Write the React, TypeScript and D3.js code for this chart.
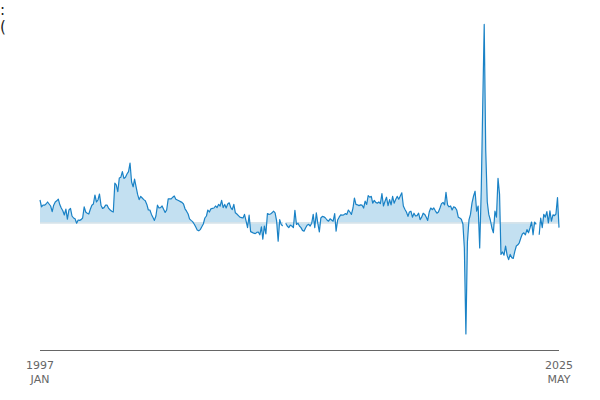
import React from "react";
import * as d3 from "d3";

const startYear = 1997;
const startLabel = ["1997", "JAN"];
const endLabel = ["2025", "MAY"];
const titleLines = [":", "("];

const y1997 = [5.5, 3.8, 4.2, 4.2, 4.5, 5, 4.5, 4, 2.6, 4.2, 5, 5.3];
const y1998 = [5.7, 4.3, 3.5, 2.8, 1.75, 3.2, 0.7, 3, 3.4, 1.5, 1, 0.8];
const y1999 = [-0.3, 0.5, 0.4, 0.6, 1, 3.8, 2.5, 2.2, 2, 3.2, 4.2, 4.5];
const y2000 = [6.75, 5, 5.5, 7, 4.2, 3.4, 3.6, 4.2, 4.2, 3.4, 3, 2.7];
const y2001 = [2.5, 9.7, 9.3, 7.6, 11, 11.2, 12.6, 10.9, 11.2, 12, 12.6, 14.7];
const y2002 = [10, 8.8, 10.7, 8.8, 6.9, 5.6, 6.4, 6, 5.6, 5.3, 4.4, 3];
const y2003 = [3, 1.9, 1.2, 0.4, 1.5, 4.2, 3.5, 3.6, 4, 3.2, 2.4, 3];
const y2004 = [5.8, 5.8, 5.8, 6.2, 6.5, 5.7, 5.5, 5.3, 5.1, 4.9, 4.5, 3.3];
const y2005 = [2.7, 2, 0.8, 0.4, 0.1, -0.5, -1.2, -2, -2.2, -1.9, -1.2, -0.5];
const y2006 = [1, 1.5, 3, 2.5, 3.3, 3.4, 3.5, 4, 3.6, 4.4, 4, 5.4];
const y2007 = [3.6, 4.4, 3.5, 4.5, 4.8, 3.6, 3.1, 4.4, 2.3, 2, 1.6, 1.2];
const y2008 = [1.1, 1, 1.9, 0.3, -1.4, 1.7, -2.4, -2.6, -2.8, -2.9, -2.6, -2.5];
const y2009 = [-3.2, -1.2, -4.3, -1, -3, 2.1, 1.9, 2, 2.3, 2.7, 2.3, 0.3];
const y2010 = [-4.8, 0.6, -0.6, -1, null, -0.3, -1, -1.4, -0.8, -1, -1.4, 2.9];
const y2011 = [-0.6, -0.3, -1, -1.4, -2.1, -2.3, -1.5, -0.8, -0.6, -1, -0.3, 1.9];
const y2012 = [-1.4, 2.3, -0.3, -2.5, 1, 1.4, 1.3, 1, 0.5, 0.2, 0.8, 0.5];
const y2013 = [0.2, 2.1, -2.3, 0.5, 1.2, 1.8, 1.7, 1.8, 2.1, 1.9, 3, 2.5];
const y2014 = [1.9, 3.5, 6, 4.4, 4.3, 4.1, 4.3, 4.2, 3.5, 5.2, 4.4, 6.6];
const y2015 = [6.2, 6.4, 4.7, 5.4, 4.9, 4.7, 5, 4.6, 7.1, 4, 5.2, 6.2];
const y2016 = [4.1, 5.6, 4.3, 6.4, 4.7, 5.6, 6.4, 5.7, 6.5, 7.3, 4, 3.2];
const y2017 = [2.5, 1.4, 2.5, 2.7, 1.2, 2.2, 1.5, 1.6, 2.2, 0.6, 1.2, 2.2];
const y2018 = [1.9, 1.2, 0.4, 2.5, 3.5, 3.1, 3.5, 2.8, 2.2, 2.5, 3.5, 4.6];
const y2019 = [4.9, 4.3, 7.4, 4.3, 3.8, 4, 3, 3.8, 3.6, 3, 1.2, 1];
const y2020 = [0.7, -0.5, -6.5, -28, -5, 0.5, 1.9, 4.8, 6.5, 7.7, 2.7, 4];
const y2021 = [-6.5, 8, 28, 49.4, 18, 5, 1.9, 0.5, -1.5, -2.7, 2.7, 1.2];
const y2022 = [10.9, 6.9, -8.1, -7.5, -8.3, -6, -8.3, -9.4, -8.1, -8.9, -9.1, -7.4];
const y2023 = [-6, -5.7, -5.2, -4, -3, -2.7, -3.2, -1.9, -2.7, -1.5, 0, -3.2];
const y2024 = [0, -0.6, null, -3.2, 1, -1.4, 1.9, 1.2, 2.6, -0.2, 2.8, 0.2];
const y2025 = [1.8, 1.6, 2, 6.1, -1.4];

const values: (number | null)[] = [
  ...y1997, ...y1998, ...y1999, ...y2000, ...y2001, ...y2002, ...y2003,
  ...y2004, ...y2005, ...y2006, ...y2007, ...y2008, ...y2009, ...y2010,
  ...y2011, ...y2012, ...y2013, ...y2014, ...y2015, ...y2016, ...y2017,
  ...y2018, ...y2019, ...y2020, ...y2021, ...y2022, ...y2023, ...y2024,
  ...y2025,
];

type Pt = { date: Date; v: number | null };

export default function App() {
  const W = 600;
  const H = 400;
  const start = new Date(startYear, 0, 1);
  const data: Pt[] = values.map((v, i) => ({ date: d3.timeMonth.offset(start, i), v }));
  const end = data[data.length - 1].date;

  const x = d3.scaleTime().domain([start, end]).range([40, 559]);
  const y = d3.scaleLinear().domain([-30, 50]).range([342, 22]);

  const defined = (d: Pt) => d.v !== null;
  const line = d3
    .line<Pt>()
    .defined(defined)
    .x((d) => x(d.date))
    .y((d) => y(d.v as number));
  const area = d3
    .area<Pt>()
    .defined(defined)
    .x((d) => x(d.date))
    .y0(y(0))
    .y1((d) => y(d.v as number));
  const base = d3
    .line<Pt>()
    .defined(defined)
    .x((d) => x(d.date))
    .y(() => y(0) + 0.8);

  const font = "'DejaVu Sans', sans-serif";
  return (
    <svg
      width={W}
      height={H}
      style={{ position: "absolute", left: 0, top: 0, background: "#fff" }}
    >
      <text x={0} y={15} fontFamily={font} fontSize={15} fill="#222">
        {titleLines[0]}
      </text>
      <text x={0} y={32} fontFamily={font} fontSize={15} fill="#222">
        {titleLines[1]}
      </text>
      <path d={area(data) || ""} fill="#c3e0f1" />
      <path d={base(data) || ""} fill="none" stroke="#d6e3ea" strokeWidth={1.8} />
      <path d={line(data) || ""} fill="none" stroke="#1a82c6" strokeWidth={1.2} strokeLinejoin="round" />
      <line x1={x(start)} x2={x(end)} y1={350.5} y2={350.5} stroke="#666" strokeWidth={1} />
      {[
        { d: start, l: startLabel },
        { d: end, l: endLabel },
      ].map((t, k) => (
        <g key={k} transform={`translate(${x(t.d)},0)`}>
          <text y={369} textAnchor="middle" fontFamily={font} fontSize={11} fill="#666">
            {t.l[0]}
          </text>
          <text y={383} textAnchor="middle" fontFamily={font} fontSize={11} fill="#666">
            {t.l[1]}
          </text>
        </g>
      ))}
    </svg>
  );
}
